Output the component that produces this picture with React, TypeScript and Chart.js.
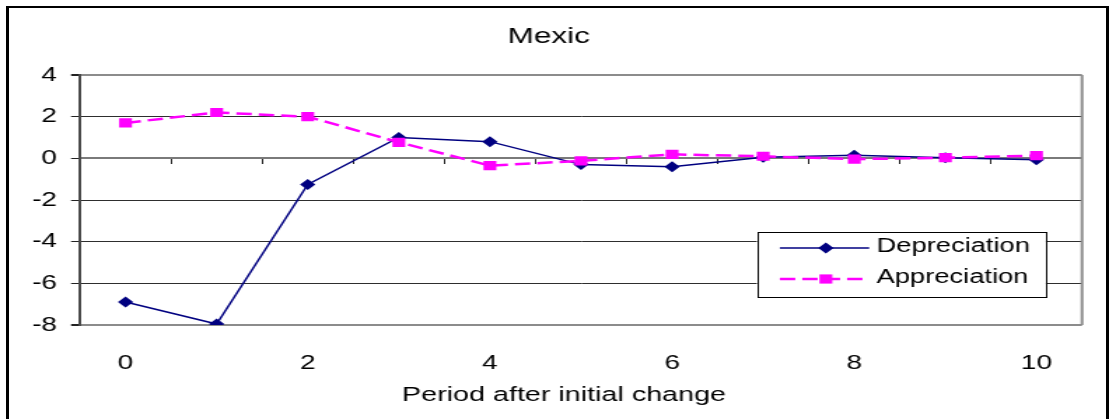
import React, { useEffect, useRef } from 'react';
import { Chart, registerables } from 'chart.js';

Chart.register(...registerables);

// ---- data ----
const periods = ['0', '1', '2', '3', '4', '5', '6', '7', '8', '9', '10'];
const depreciation = [-6.9, -7.95, -1.25, 1.0, 0.8, -0.3, -0.4, 0.05, 0.15, 0.03, -0.07];
const appreciation = [1.7, 2.2, 2.0, 0.77, -0.35, -0.12, 0.19, 0.1, -0.04, 0.03, 0.13];
const yMin = -8;
const yMax = 4;
const yStep = 2;
const chartTitle = 'Mexic';
const xAxisTitle = 'Period after initial change';

// ---- layout ----
const FULL_W = 1109;
const FULL_H = 419;
const INNER_W = 792;
const SX = FULL_W / INNER_W;
const FONT = "'Liberation Sans', Arial, sans-serif";
const PAD_LEFT = 11;

const plotBorderPlugin = {
  id: 'plotBorder',
  beforeDatasetsDraw(chart: any) {
    const { ctx, chartArea } = chart;
    ctx.save();
    ctx.strokeStyle = '#8c8c8c';
    ctx.lineWidth = 2;
    ctx.beginPath();
    ctx.moveTo(chartArea.right, chartArea.top);
    ctx.lineTo(chartArea.right, chartArea.bottom);
    ctx.stroke();
    ctx.restore();
  },
};

const drawMarker = (ctx: CanvasRenderingContext2D, style: string, x: number, y: number, r: number) => {
  ctx.beginPath();
  if (style === 'rectRot') {
    ctx.moveTo(x, y - r);
    ctx.lineTo(x + r, y);
    ctx.lineTo(x, y + r);
    ctx.lineTo(x - r, y);
    ctx.closePath();
  } else {
    const h = r * Math.SQRT1_2;
    ctx.rect(x - h, y - h, 2 * h, 2 * h);
  }
  ctx.fill();
};

const legendAndTitlePlugin = {
  id: 'customLegend',
  afterDraw(chart: any) {
    const { ctx, chartArea } = chart;
    ctx.save();
    // legend box
    const bx = chartArea.right - 232.2;
    const by = chartArea.bottom - 93;
    const bw = 206.4;
    const bh = 65;
    ctx.fillStyle = '#ffffff';
    ctx.fillRect(bx, by, bw, bh);
    ctx.strokeStyle = '#000000';
    ctx.lineWidth = 1;
    ctx.strokeRect(Math.round(bx) + 0.5, Math.round(by) + 0.5, Math.round(bw), Math.round(bh));
    const rows = [by + 16, by + 47];
    const lx1 = bx + 16.4;
    const lx2 = bx + 80.2;
    const mx = bx + 49.3;
    const tx = bx + 85.5;
    chart.data.datasets.forEach((ds: any, i: number) => {
      const y = rows[i];
      ctx.strokeStyle = ds.borderColor;
      ctx.lineWidth = ds.borderWidth;
      ctx.setLineDash(ds.borderDash || []);
      ctx.beginPath();
      ctx.moveTo(lx1, y);
      ctx.lineTo(lx2, y);
      ctx.stroke();
      ctx.setLineDash([]);
      ctx.fillStyle = ds.pointBackgroundColor;
      drawMarker(ctx, ds.pointStyle, mx, y, ds.pointRadius);
      ctx.fillStyle = '#000000';
      ctx.font = `19.5px ${FONT}`;
      ctx.textAlign = 'left';
      ctx.textBaseline = 'middle';
      ctx.fillText(ds.label, tx, y - 1);
    });
    // x axis title
    ctx.fillStyle = '#000000';
    ctx.font = `20.5px ${FONT}`;
    ctx.textAlign = 'center';
    ctx.textBaseline = 'alphabetic';
    ctx.fillText(xAxisTitle, 564 / SX, 401);
    ctx.restore();
  },
};

export default function App() {
  const canvasRef = useRef<HTMLCanvasElement | null>(null);

  useEffect(() => {
    if (!canvasRef.current) return;
    const chart = new Chart(canvasRef.current, {
      type: 'line',
      data: {
        labels: periods,
        datasets: [
          {
            label: 'Depreciation',
            data: depreciation,
            borderColor: '#000080',
            backgroundColor: '#000080',
            pointBackgroundColor: '#000080',
            pointBorderColor: '#000080',
            borderWidth: 1.5,
            pointStyle: 'rectRot',
            pointRadius: 5.5,
            pointBorderWidth: 0,
            tension: 0,
            fill: false,
            order: 2,
          } as any,
          {
            label: 'Appreciation',
            data: appreciation,
            borderColor: '#FF00FF',
            backgroundColor: '#FF00FF',
            pointBackgroundColor: '#FF00FF',
            pointBorderColor: '#FF00FF',
            borderWidth: 2.5,
            borderDash: [11, 5],
            pointStyle: 'rect',
            pointRadius: 6.5,
            pointBorderWidth: 0,
            tension: 0,
            fill: false,
            order: 1,
          } as any,
        ],
      },
      options: {
        animation: false,
        responsive: true,
        maintainAspectRatio: false,
        layout: { padding: { left: PAD_LEFT, right: INNER_W - 1082 / SX, top: 0, bottom: 0 } },
        plugins: {
          legend: { display: false },
          tooltip: { enabled: false },
          title: {
            display: true,
            text: chartTitle,
            color: '#000000',
            font: { family: FONT, size: 22.5, weight: 'normal', lineHeight: 1 },
            padding: { top: 26, bottom: 26.5 },
          },
        },
        scales: {
          x: {
            type: 'category',
            offset: true,
            grid: { display: false },
            border: { display: false },
            ticks: {
              autoSkip: false,
              maxRotation: 0,
              color: '#000000',
              font: { family: FONT, size: 20 },
              padding: 18,
              callback: (_v: any, i: number) => (i % 2 === 0 ? periods[i] : ''),
            },
            afterFit: (scale: any) => {
              scale.height = FULL_H - 325;
            },
          },
          x2: {
            type: 'category',
            position: { y: 0 },
            offset: true,
            grid: {
              display: true,
              offset: true,
              drawOnChartArea: false,
              drawTicks: true,
              tickLength: 5,
              tickColor: '#222222',
              tickWidth: 1,
            },
            border: { display: true, color: '#7a7a7a', width: 2 },
            ticks: { display: false },
          } as any,
          y: {
            min: yMin,
            max: yMax,
            ticks: {
              stepSize: yStep,
              color: '#000000',
              font: { family: FONT, size: 20 },
              padding: 10,
            },
            grid: {
              color: (c: any) =>
                c.tick && (c.tick.value === yMin || c.tick.value === yMax) ? '#8c8c8c' : '#2e2e2e',
              lineWidth: (c: any) =>
                c.tick && (c.tick.value === yMin || c.tick.value === yMax) ? 2 : 1,
              tickColor: '#222222',
              tickLength: 6.4,
              drawTicks: true,
            },
            border: { display: true, color: '#4a4a4a', width: 2 },
            afterFit: (scale: any) => {
              scale.width = 80 / SX - PAD_LEFT;
            },
          },
        },
      },
      plugins: [plotBorderPlugin, legendAndTitlePlugin],
    });
    return () => chart.destroy();
  }, []);

  return (
    <div
      style={{
        position: 'fixed',
        left: 0,
        top: 0,
        width: FULL_W,
        height: FULL_H,
        background: '#ffffff',
        overflow: 'hidden',
      }}
    >
      <div
        style={{
          position: 'absolute',
          left: 0,
          top: 0,
          width: INNER_W,
          height: FULL_H,
          transform: `scaleX(${SX})`,
          transformOrigin: '0 0',
        }}
      >
        <canvas ref={canvasRef} />
      </div>
      <div
        style={{
          position: 'absolute',
          left: 6,
          top: 6,
          width: FULL_W - 6,
          height: FULL_H + 20,
          boxSizing: 'border-box',
          borderStyle: 'solid',
          borderColor: '#000000',
          borderWidth: '2px 3px 2px 3px',
          pointerEvents: 'none',
        }}
      />
    </div>
  );
}
